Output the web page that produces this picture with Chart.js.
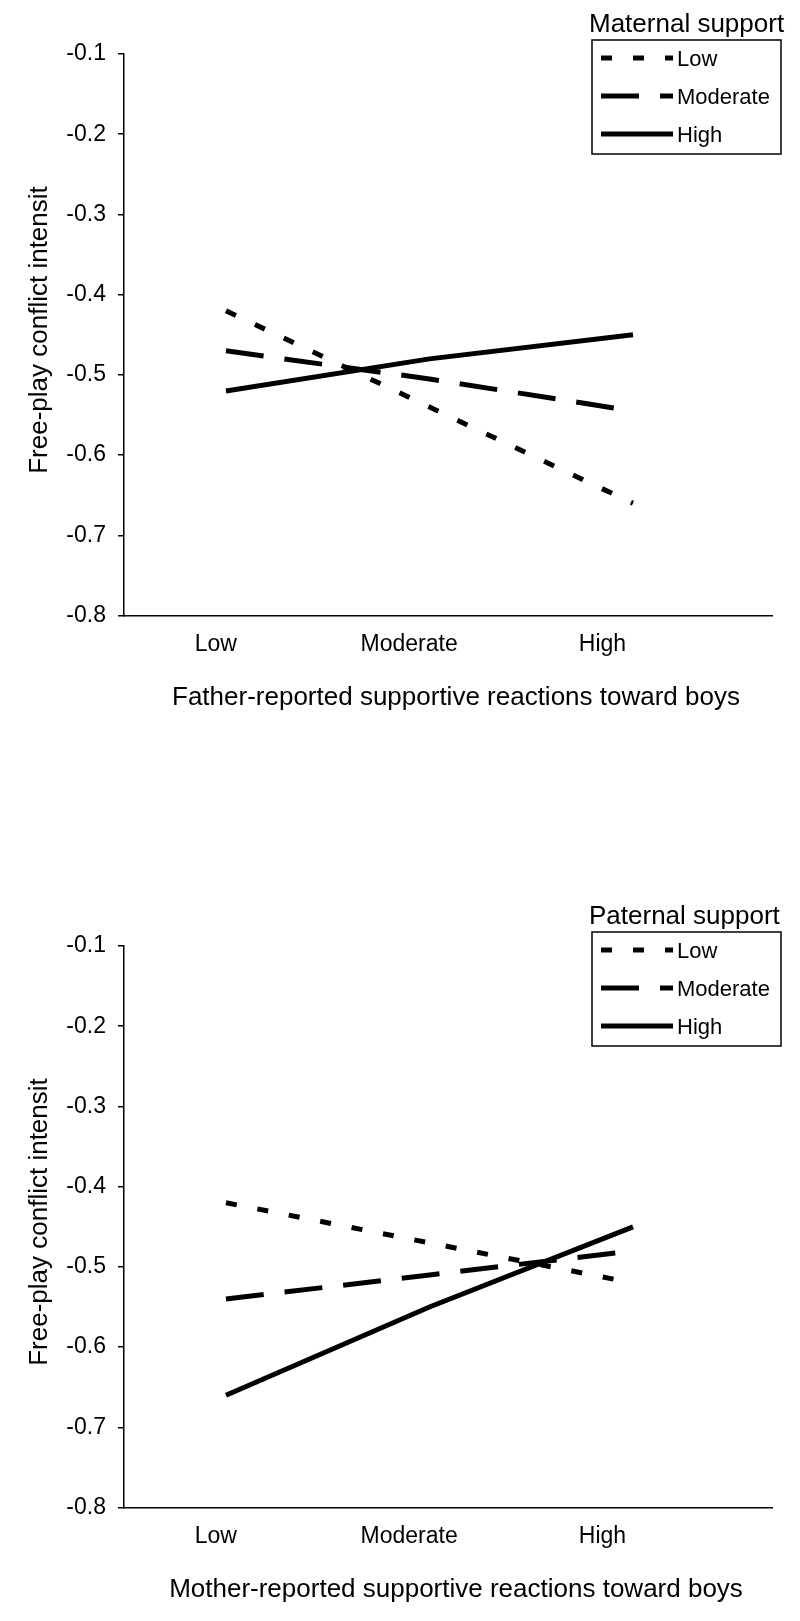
<!DOCTYPE html>
<html><head><meta charset="utf-8">
<script src="https://cdn.jsdelivr.net/npm/chart.js@4"></script>
<style>
html,body{margin:0;padding:0;background:#fff;}
body{width:800px;height:1621px;position:relative;overflow:hidden;}
canvas{position:absolute;left:0;}
#c1{top:0}
#c2{top:892px}
</style></head><body>
<canvas id="c1" width="800" height="729"></canvas>
<canvas id="c2" width="800" height="729"></canvas>
<script>
// ---- data ----
const categories = ['Low', 'Moderate', 'High'];
const seriesNames = ['Low', 'Moderate', 'High'];
const yMin = -0.8, yMax = -0.1, yStep = 0.1;

const maternalLow      = [-0.42, -0.54, -0.66];
const maternalModerate = [-0.47, -0.505, -0.545];
const maternalHigh     = [-0.52, -0.48, -0.45];

const paternalLow      = [-0.42, -0.47, -0.52];
const paternalModerate = [-0.54, -0.51, -0.48];
const paternalHigh     = [-0.66, -0.55, -0.45];

const yTitle = 'Free-play conflict intensit';
const chart1XTitle = 'Father-reported supportive reactions toward boys';
const chart2XTitle = 'Mother-reported supportive reactions toward boys';
const chart1Legend = 'Maternal support';
const chart2Legend = 'Paternal support';

// ---- styling ----
const FONT = '"Liberation Sans", Arial, Helvetica, sans-serif';
const dashes = [[11, 21], [38, 21], []];
// label placement of the category names along the axis (scan is slightly compressed)
const labelSpread = 0.95, labelShift = -0.05;

const decor = {
  id: 'decor',
  afterDraw(chart, args, opts) {
    const ctx = chart.ctx;
    ctx.save();
    ctx.fillStyle = '#000';
    ctx.strokeStyle = '#000';
    ctx.font = '26px ' + FONT;
    ctx.textAlign = 'center';
    ctx.textBaseline = 'middle';
    ctx.fillText(opts.xTitle, 456, 698);
    ctx.save();
    ctx.translate(40, 330);
    ctx.rotate(-Math.PI / 2);
    ctx.fillText(opts.yTitle, 0, 0);
    ctx.restore();
    // legend
    ctx.textAlign = 'left';
    ctx.fillText(opts.legendTitle, 589, 25);
    ctx.lineWidth = 1.5;
    ctx.strokeRect(592, 40, 189, 114);
    ctx.font = '22px ' + FONT;
    chart.data.datasets.forEach((ds, i) => {
      const y = 58 + i * 38;
      ctx.save();
      ctx.setLineDash(ds.borderDash || []);
      ctx.lineWidth = ds.borderWidth;
      ctx.beginPath();
      ctx.moveTo(601, y);
      ctx.lineTo(673, y);
      ctx.stroke();
      ctx.restore();
      ctx.fillText(ds.label, 677, y + 2);
    });
    ctx.restore();
  }
};

function makeChart(id, seriesList, xTitleText, legendTitle) {
  const H = 729;
  new Chart(document.getElementById(id), {
    type: 'line',
    data: {
      datasets: seriesList.map((vals, i) => ({
        label: seriesNames[i],
        data: vals.map((v, j) => ({ x: j, y: v })),
        borderColor: '#000',
        borderWidth: 5,
        borderDash: dashes[i],
        borderCapStyle: 'butt',
        pointRadius: 0,
        tension: 0,
        fill: false
      }))
    },
    options: {
      responsive: false,
      animation: false,
      devicePixelRatio: 1,
      layout: { padding: { top: 54, right: 28, left: 0, bottom: 0 } },
      plugins: {
        legend: { display: false },
        tooltip: { enabled: false },
        decor: { xTitle: xTitleText, yTitle: yTitle, legendTitle: legendTitle }
      },
      scales: {
        x: {
          type: 'linear',
          min: -0.501,
          max: 2.683,
          afterBuildTicks: (s) => { s.ticks = categories.map((c, i) => ({ value: i * labelSpread + labelShift })); },
          afterFit: (s) => { s.height = H - 615.6; },
          grid: { display: false, drawTicks: false },
          border: { display: true, color: '#000', width: 1.5 },
          ticks: {
            callback: (v, idx) => categories[idx],
            color: '#000',
            font: { family: FONT, size: 23 },
            padding: 15,
            maxRotation: 0,
            autoSkip: false
          }
        },
        y: {
          min: yMin,
          max: yMax,
          afterFit: (s) => { s.width = 124; },
          grid: { drawOnChartArea: false, drawTicks: true, tickLength: 6, color: '#000', lineWidth: 1.5 },
          border: { display: true, color: '#000', width: 1.5 },
          ticks: {
            stepSize: yStep,
            callback: (v) => Number(v).toFixed(1),
            color: '#000',
            font: { family: FONT, size: 23 },
            padding: 12
          }
        }
      }
    },
    plugins: [decor]
  });
}

makeChart('c1', [maternalLow, maternalModerate, maternalHigh], chart1XTitle, chart1Legend);
makeChart('c2', [paternalLow, paternalModerate, paternalHigh], chart2XTitle, chart2Legend);
</script>
</body></html>
